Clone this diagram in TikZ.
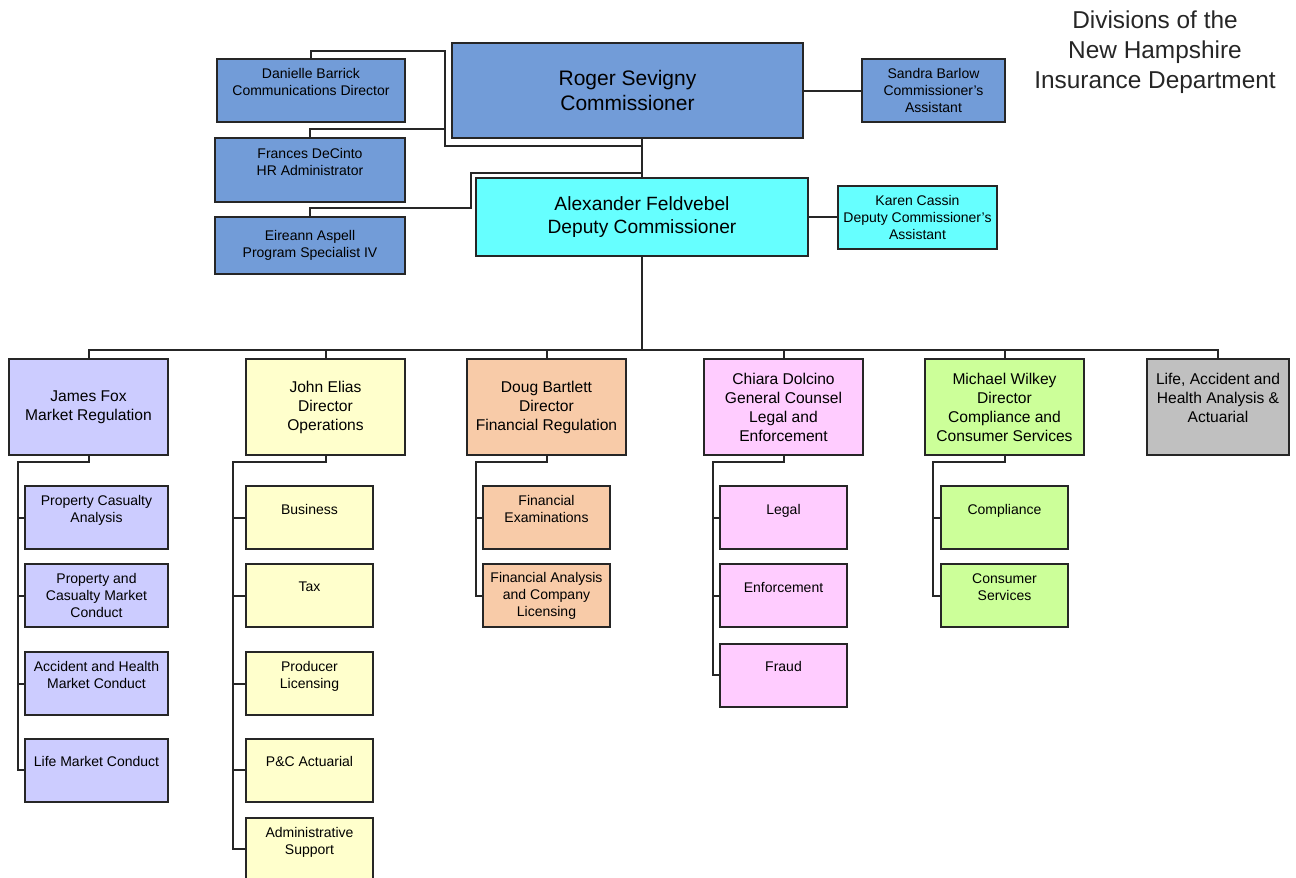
\documentclass[tikz,border=0pt]{standalone}
\usepackage{fontspec}
\setmainfont{Liberation Sans}
\definecolor{comblue}{RGB}{114,156,216}
\definecolor{depcyan}{RGB}{102,255,255}
\definecolor{mktlav}{RGB}{204,204,255}
\definecolor{opsyel}{RGB}{255,255,204}
\definecolor{finpeach}{RGB}{248,203,168}
\definecolor{legpink}{RGB}{255,204,255}
\definecolor{cmpgreen}{RGB}{204,255,153}
\definecolor{lahgray}{RGB}{192,192,192}
\newcommand{\fsub}{\fontsize{7}{8.5}\selectfont}
\newcommand{\fdiv}{\fontsize{7.8}{9.5}\selectfont}
\newcommand{\fdep}{\fontsize{9.6}{11.5}\selectfont}
\newcommand{\fcom}{\fontsize{10.5}{12.5}\selectfont}
\newcommand{\ftitle}{\fontsize{12.2}{15}\selectfont}
\tikzset{
  sqtop/.style={ draw=black!85, line width=1pt, fill=comblue, align=center, inner sep=0pt, font=\fsub }
}
\tikzset{
  sqdep/.style={ sqtop, fill=depcyan }
}
\tikzset{
  sqdiv/.style={ sqtop, minimum width=79.5pt, minimum height=48pt, font=\fdiv }
}
\tikzset{
  sqsub/.style={ sqtop, minimum width=63.5pt, minimum height=31.5pt }
}
\tikzset{
  conn/.style={ draw=black!85, line width=1pt }
}

\begin{document}
\begin{tikzpicture}[x=0.5pt, y=-0.5pt]
      \useasboundingbox (0,0) rectangle (1296,878);
      \node[font=\ftitle, align=center, text=black!85] (title) at (1155,52) {Divisions of the\\New Hampshire\\Insurance Department};
      % commissioner and staff
      \node[sqtop, minimum width=175.5pt, minimum height=47.5pt, font=\fcom] (rsev) at (627.5,90.5) {Roger Sevigny\\Commissioner};
      \node[sqtop, minimum width=94pt, minimum height=31.5pt] (dbar) at (311,90.5) {Danielle Barrick\\Communications Director\\~};
      \node[sqtop, minimum width=95pt, minimum height=32pt] (fdec) at (310,170) {Frances DeCinto\\HR Administrator\\~};
      \node[sqtop, minimum width=95pt, minimum height=28.5pt] (easp) at (310,245.5) {Eireann Aspell\\Program Specialist IV};
      \node[sqtop, minimum width=71.5pt, minimum height=31.5pt] (sbar) at (933.5,90.5) {Sandra Barlow\\Commissioner’s\\Assistant};
      \node[sqdep, minimum width=166pt, minimum height=39pt, font=\fdep] (afel) at (642,217) {Alexander Feldvebel\\Deputy Commissioner};
      \node[sqdep, minimum width=79.5pt, minimum height=31.5pt] (kcas) at (917.5,217) {Karen Cassin\\Deputy Commissioner’s\\Assistant};
      % divisions
      \node[sqdiv, fill=mktlav] (jfox) at (88.5,407) {James Fox\\Market Regulation};
      \node[sqdiv, fill=opsyel] (jeli) at (325.5,407) {John Elias\\Director\\Operations};
      \node[sqdiv, fill=finpeach] (dbart) at (546.5,407) {Doug Bartlett\\Director\\Financial Regulation};
      \node[sqdiv, fill=legpink] (cdol) at (783.5,407) {Chiara Dolcino\\General Counsel\\Legal and\\Enforcement};
      \node[sqdiv, fill=cmpgreen] (mwil) at (1004.5,407) {Michael Wilkey\\Director\\Compliance and\\Consumer Services};
      \node[sqdiv, fill=lahgray, minimum width=71pt] (lah) at (1218,407) {Life, Accident and\\Health Analysis \&\\Actuarial\\~};
      % units
      \node[sqsub, fill=mktlav, minimum width=71.5pt] (jfox1) at (96.5,517.5) {Property Casualty\\Analysis\\~};
      \node[sqsub, fill=mktlav, minimum width=71.5pt] (jfox2) at (96.5,595.5) {Property and\\Casualty Market\\Conduct};
      \node[sqsub, fill=mktlav, minimum width=71.5pt] (jfox3) at (96.5,683.5) {Accident and Health\\Market Conduct\\~};
      \node[sqsub, fill=mktlav, minimum width=71.5pt] (jfox4) at (96.5,770) {Life Market Conduct\\~};
      \node[sqsub, fill=opsyel] (jeli1) at (309.5,517.5) {Business\\~};
      \node[sqsub, fill=opsyel] (jeli2) at (309.5,595.5) {Tax\\~};
      \node[sqsub, fill=opsyel] (jeli3) at (309.5,683.5) {Producer\\Licensing\\~};
      \node[sqsub, fill=opsyel] (jeli4) at (309.5,770) {P\&C Actuarial\\~};
      \node[sqsub, fill=opsyel] (jeli5) at (309.5,849) {Administrative\\Support\\~};
      \node[sqsub, fill=finpeach] (dbart1) at (546.5,517.5) {Financial\\Examinations\\~};
      \node[sqsub, fill=finpeach] (dbart2) at (546.5,595.5) {Financial Analysis\\and Company\\Licensing};
      \node[sqsub, fill=legpink] (cdol1) at (783.5,517.5) {Legal\\~};
      \node[sqsub, fill=legpink] (cdol2) at (783.5,595.5) {Enforcement\\~};
      \node[sqsub, fill=legpink] (cdol3) at (783.5,675) {Fraud\\~};
      \node[sqsub, fill=cmpgreen] (mwil1) at (1004.5,517.5) {Compliance\\~};
      \node[sqsub, fill=cmpgreen] (mwil2) at (1004.5,595.5) {Consumer\\Services\\~};
      % connectors
      \coordinate (staff) at (445,146);
      \coordinate (dstaff) at (471,173);
      \coordinate (hub) at (642,351);
      \draw[conn] (rsev.south -| afel.north) -- (afel.north);
      \draw[conn] (dbar.north) -- ++(0,-7) -| (staff) -- (staff -| afel.north);
      \draw[conn] (fdec.north) -- ++(0,-8) -| (staff);
      \draw[conn] (easp.north) -- ++(0,-8) -| (dstaff) -- (dstaff -| afel.north);
      \draw[conn] (rsev.east) -- (sbar.west);
      \draw[conn] (afel.east) -- (kcas.west);
      \draw[conn] (afel.south) -- (hub);
      \draw[conn] (jfox.north) -- ++(0,-8) -| (lah.north);
      \foreach \d in {jeli,dbart,cdol,mwil} \draw[conn] (\d.north) -- ++(0,-8);
      \foreach \d/\rx/\n in {jfox/18/4, jeli/233/5, dbart/476/2, cdol/713/3, mwil/933/2} {
        \coordinate (\d-r) at (\rx,462);
        \draw[conn] (\d.south) |- (\d-r) |- (\d\n.west);
        \foreach \i in {1,...,\n} \draw[conn] (\d\i.west) -- (\d\i.west -| \d-r);
      }
    \end{tikzpicture}
\end{document}
